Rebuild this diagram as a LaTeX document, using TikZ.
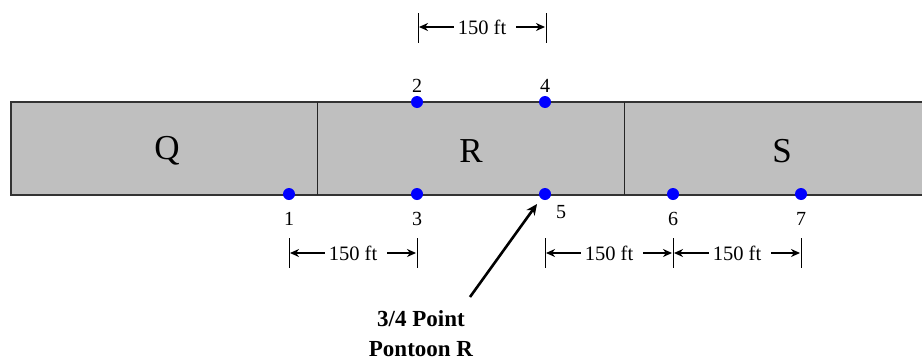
\documentclass[tikz,border=0pt]{standalone}
\usepackage{fontspec}
\setmainfont{Liberation Serif}
\usetikzlibrary{arrows.meta}
\begin{document}
\begin{tikzpicture}[x=1pt,y=-1pt,
  pont/.style={fill=black!25,draw=black!80,line width=1.2pt},
  sep/.style={draw=black!85,line width=1pt},
  dot/.style={circle,fill=blue,inner sep=0pt,minimum size=12pt},
  num/.style={font=\fontsize{20}{22}\selectfont,inner sep=1pt},
  big/.style={font=\fontsize{35}{38}\selectfont},
  tick/.style={draw=black,line width=1pt},
  dim/.style={line width=1.8pt,-{Stealth[length=9pt,width=8pt]}},
  dimlab/.style={font=\fontsize{20.5}{22}\selectfont,inner sep=0pt},
  lead/.style={line width=2.6pt,-{Stealth[length=11pt,width=10pt]}}]
\useasboundingbox (0,0) rectangle (922,362);
% pontoons
\path[pont] (922,102) -- (11,102) -- (11,195) -- (922,195);
\draw[sep] (317,102) -- (317,195);
\draw[sep] (624,102) -- (624,195);
\node[big] (Q) at (167,151) {Q};
\node[big] (R) at (471,151) {R};
\node[big] (S) at (782,151) {S};
% points
\node[dot] (p1) at (289,194) {};
\node[dot] (p2) at (417,102) {};
\node[dot] (p3) at (417,194) {};
\node[dot] (p4) at (545,102) {};
\node[dot] (p5) at (545,194) {};
\node[dot] (p6) at (673,194) {};
\node[dot] (p7) at (801,194) {};
\node[num] (l1) at (289,219) {1};
\node[num] (l2) at (417,86) {2};
\node[num] (l3) at (417,219) {3};
\node[num] (l4) at (545,86) {4};
\node[num] (l5) at (561,212) {5};
\node[num] (l6) at (673,219) {6};
\node[num] (l7) at (801,219) {7};
% top dimension
\coordinate (ta) at (418,13); \coordinate (tb) at (418,43);
\coordinate (tc) at (546,13); \coordinate (td) at (546,43);
\draw[tick] (ta) -- (tb);
\draw[tick] (tc) -- (td);
\node[dimlab] (t150) at (482,27) {150 ft};
\coordinate (tl) at (419,27); \coordinate (tr) at (545,27);
\draw[dim] ([xshift=-4pt]t150.west) -- (tl);
\draw[dim] ([xshift=10pt]t150.east) -- (tr);
% bottom dimensions
\foreach \x/\n in {289/a,417/b,545/c,673/d,801/e}{
  \coordinate (b\n1) at (\x,238); \coordinate (b\n2) at (\x,268);
  \draw[tick] (b\n1) -- (b\n2);
  \coordinate (b\n) at (\x,253);
}
\node[dimlab] (d1) at (353,253) {150 ft};
\node[dimlab] (d2) at (609,253) {150 ft};
\node[dimlab] (d3) at (737,253) {150 ft};
\draw[dim] ([xshift=-4pt]d1.west) -- ([xshift=1pt]ba);
\draw[dim] ([xshift=10pt]d1.east) -- ([xshift=-1pt]bb);
\draw[dim] ([xshift=-4pt]d2.west) -- ([xshift=1pt]bc);
\draw[dim] ([xshift=10pt]d2.east) -- ([xshift=-1pt]bd);
\draw[dim] ([xshift=-4pt]d3.west) -- ([xshift=1pt]bd);
\draw[dim] ([xshift=10pt]d3.east) -- ([xshift=-1pt]be);
% leader
\node[font=\bfseries\fontsize{23}{30}\selectfont,align=center] (note) at (421,334) {3/4 Point\\Pontoon R};
\coordinate (lt) at (470,297);
\coordinate (lh) at (537,204);
\draw[lead] (lt) -- (lh);
\end{tikzpicture}
\end{document}
